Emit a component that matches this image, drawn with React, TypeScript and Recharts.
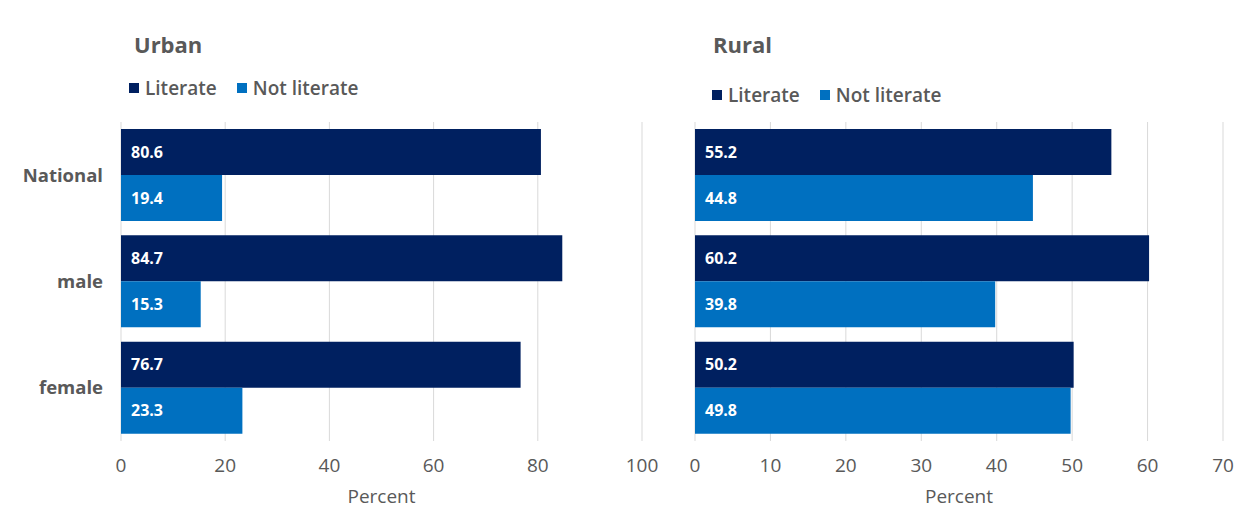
import { Bar, BarChart, CartesianGrid, LabelList, XAxis, YAxis } from "recharts";

const categories = ["National", "male", "female"];
const urbanLiterate = [80.6, 84.7, 76.7];
const urbanNotLiterate = [19.4, 15.3, 23.3];
const ruralLiterate = [55.2, 60.2, 50.2];
const ruralNotLiterate = [44.8, 39.8, 49.8];
const urbanTicks = [0, 20, 40, 60, 80, 100];
const ruralTicks = [0, 10, 20, 30, 40, 50, 60, 70];

const NAVY = "#002060";
const BLUE = "#0070c0";
const GREY = "#595959";
const FONT = "'Open Sans', sans-serif";

const urbanData = categories.map((name, i) => ({
  name,
  literate: urbanLiterate[i],
  notLiterate: urbanNotLiterate[i],
}));
const ruralData = categories.map((name, i) => ({
  name,
  literate: ruralLiterate[i],
  notLiterate: ruralNotLiterate[i],
}));

function LegendRow({ left, top }: { left: number; top: number }) {
  const item = (color: string, text: string) => (
    <span style={{ display: "inline-flex", alignItems: "center", marginRight: 20 }}>
      <span style={{ width: 10, height: 10, background: color, display: "inline-block", marginRight: 6 }} />
      {text}
    </span>
  );
  return (
    <div
      style={{
        position: "absolute",
        left,
        top,
        fontFamily: FONT,
        fontSize: 19,
        fontWeight: 600,
        color: GREY,
        whiteSpace: "nowrap",
        lineHeight: "24px",
      }}
    >
      {item(NAVY, "Literate")}
      {item(BLUE, "Not literate")}
    </div>
  );
}

function Title({ left, text }: { left: number; text: string }) {
  return (
    <div
      style={{
        position: "absolute",
        left,
        top: 30,
        fontFamily: FONT,
        fontSize: 22,
        fontWeight: 700,
        color: GREY,
        lineHeight: "28px",
      }}
    >
      {text}
    </div>
  );
}

const labelStyle = { fill: "#ffffff", fontSize: 16, fontWeight: 700, fontFamily: FONT };
const tickStyle = { fill: GREY, fontSize: 19, fontWeight: 500, fontFamily: FONT };
const axisLabel = { value: "Percent", position: "insideBottom" as const, offset: 8, fill: GREY, fontSize: 19, fontFamily: FONT };

export default function App() {
  return (
    <div style={{ position: "absolute", left: 0, top: 0, width: 1236, height: 511, background: "#fff" }}>
      <Title left={134} text="Urban" />
      <Title left={713} text="Rural" />
      <LegendRow left={129} top={74} />
      <LegendRow left={712} top={81} />

      <div style={{ position: "absolute", left: 0, top: 0 }}>
        <BarChart
          width={660}
          height={511}
          data={urbanData}
          layout="vertical"
          barSize={46}
          barGap={0}
          margin={{ top: 122, right: 18, bottom: 0, left: 0 }}
        >
          <CartesianGrid horizontal={false} stroke="#d9d9d9" />
          <XAxis
            type="number"
            domain={[0, 100]}
            ticks={urbanTicks}
            axisLine={false}
            tickLine={false}
            tickSize={0}
            tickMargin={18}
            height={70}
            tick={tickStyle}
            label={axisLabel}
          />
          <YAxis
            type="category"
            dataKey="name"
            width={121}
            axisLine={false}
            tickLine={false}
            tickSize={0}
            tickMargin={18}
            tick={{ fill: GREY, fontSize: 18.5, fontWeight: 700, fontFamily: FONT }}
          />
          <Bar dataKey="literate" fill={NAVY} isAnimationActive={false}>
            <LabelList dataKey="literate" position="insideLeft" offset={10} style={labelStyle} />
          </Bar>
          <Bar dataKey="notLiterate" fill={BLUE} isAnimationActive={false}>
            <LabelList dataKey="notLiterate" position="insideLeft" offset={10} style={labelStyle} />
          </Bar>
        </BarChart>
      </div>

      <div style={{ position: "absolute", left: 600, top: 0 }}>
        <BarChart
          width={636}
          height={511}
          data={ruralData}
          layout="vertical"
          barSize={46}
          barGap={0}
          margin={{ top: 122, right: 13, bottom: 0, left: 95 }}
        >
          <CartesianGrid horizontal={false} stroke="#d9d9d9" />
          <XAxis
            type="number"
            domain={[0, 70]}
            ticks={ruralTicks}
            axisLine={false}
            tickLine={false}
            tickSize={0}
            tickMargin={18}
            height={70}
            tick={tickStyle}
            label={axisLabel}
          />
          <YAxis type="category" dataKey="name" hide />
          <Bar dataKey="literate" fill={NAVY} isAnimationActive={false}>
            <LabelList dataKey="literate" position="insideLeft" offset={10} style={labelStyle} />
          </Bar>
          <Bar dataKey="notLiterate" fill={BLUE} isAnimationActive={false}>
            <LabelList dataKey="notLiterate" position="insideLeft" offset={10} style={labelStyle} />
          </Bar>
        </BarChart>
      </div>
    </div>
  );
}
